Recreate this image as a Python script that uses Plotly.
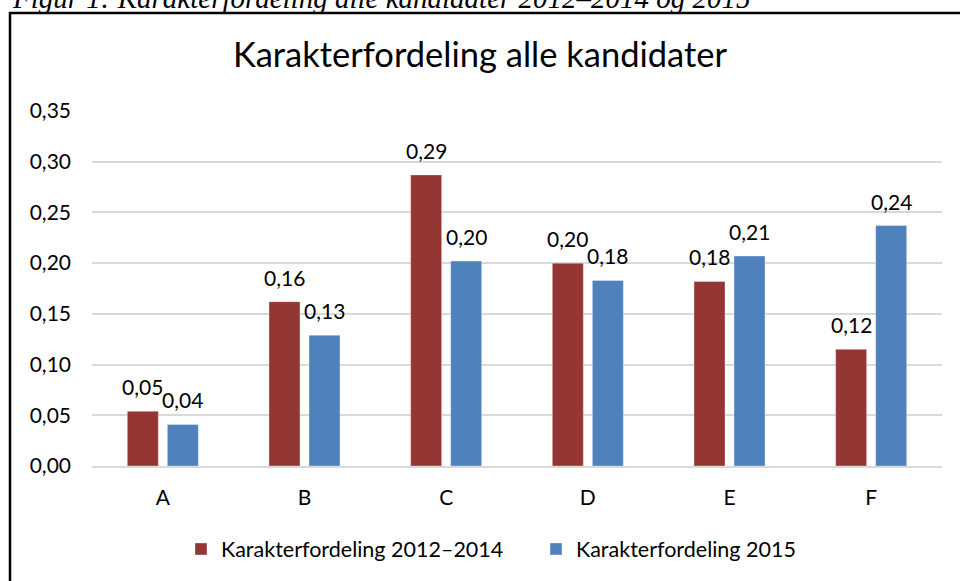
import plotly.graph_objects as go

categories = ["A", "B", "C", "D", "E", "F"]
share_2012_2014 = [0.054, 0.162, 0.287, 0.200, 0.182, 0.115]
share_2015 = [0.041, 0.129, 0.202, 0.183, 0.207, 0.237]
series_names = ["Karakterfordeling 2012–2014", "Karakterfordeling 2015"]
colors = ["#943634", "#4f81bd"]

font_family = "Lato, Open Sans, sans-serif"

fig = go.Figure()
for name, vals, col in zip(series_names, [share_2012_2014, share_2015], colors):
    fig.add_trace(go.Bar(
        x=categories, y=vals, name=name,
        marker=dict(color=col, line=dict(color="rgba(255,255,255,0.35)", width=1)),
    ))

# data labels above bars
for vals, dx in [(share_2012_2014, -20), (share_2015, 20)]:
    for c, v in zip(categories, vals):
        fig.add_annotation(
            x=c, y=v, text=f"{v:.2f}".replace(".", ","),
            showarrow=False, xshift=dx, yshift=10, yanchor="bottom",
            font=dict(size=21, color="#000000", family=font_family),
        )

# figure caption (cut at top of the page)
fig.add_annotation(
    x=(10 - 92) / 850, y=(466 + 2.5) / 355, xref="paper", yref="paper",
    xanchor="left", yanchor="middle",
    text="<i>Figur 1: Karakterfordeling alle kandidater 2012–2014 og 2015</i>",
    showarrow=False, font=dict(size=29, color="#000000", family="Liberation Serif"),
)

# chart border
fig.add_shape(type="rect", xref="paper", yref="paper",
              x0=(10 - 92) / 850, x1=1.1, y0=-0.5, y1=(466 - 13) / 355,
              line=dict(color="#000000", width=2.5), fillcolor="rgba(0,0,0,0)")

fig.update_layout(
    width=960, height=581,
    margin=dict(l=92, r=18, t=111, b=115),
    paper_bgcolor="white", plot_bgcolor="white",
    barmode="group", bargap=0.435, bargroupgap=0.225,
    title=dict(text="Karakterfordeling alle kandidater", x=0.5, xanchor="center",
               y=0.905, yanchor="middle",
               font=dict(size=34.5, color="#000000", family=font_family)),
    font=dict(family=font_family, color="#000000", size=21),
    legend=dict(orientation="h", x=(181 - 92) / 850, xanchor="left",
                y=(466 - 549) / 355, yanchor="middle", entrywidth=310,
                font=dict(size=21.5), traceorder="normal"),
    showlegend=True,
    separators=", ",
)
fig.update_yaxes(range=[0, 0.35], dtick=0.05, tickformat=".2f", showgrid=True,
                 gridcolor="#d9d9d9", gridwidth=2, zeroline=False, showline=False,
                 ticklabelstandoff=20, tickfont=dict(size=21))
fig.update_xaxes(showline=True, linecolor="#d9d9d9", linewidth=2, ticks="",
                 ticklabelstandoff=12, tickfont=dict(size=21))

fig.write_html("out.html", config={"displayModeBar": False},
               post_script="document.body.style.margin='0';")
